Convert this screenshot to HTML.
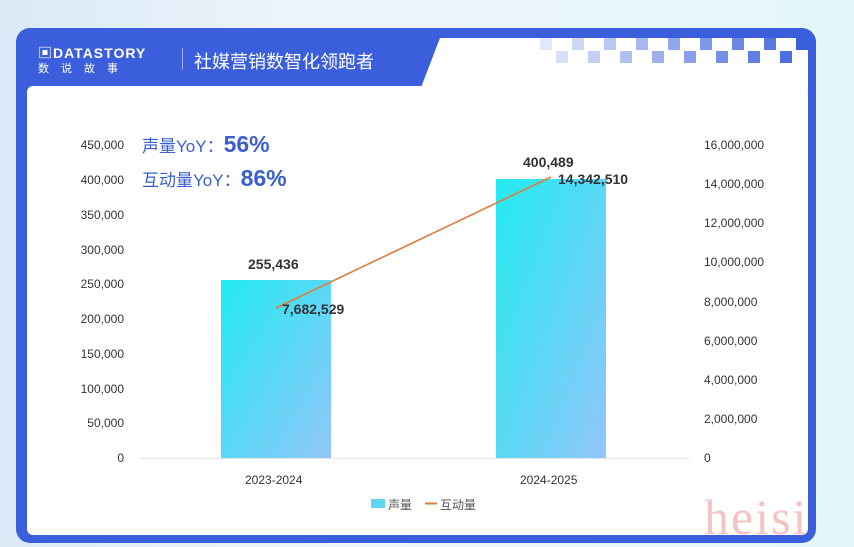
<!DOCTYPE html>
<html><head><meta charset="utf-8"><style>
body{margin:0;width:854px;height:547px;overflow:hidden;background:linear-gradient(90deg,#dbe9f7,#eef6fb 40%,#e3f7f8);font-family:"Liberation Sans","Noto Sans CJK SC",sans-serif;position:relative}
.frame{position:absolute;left:16px;top:28px;width:800px;height:515px;background:#3b5fdc;border-radius:14px}
.inner{position:absolute;left:27px;top:86px;width:781px;height:449px;background:#fff;border-radius:6px}
.t{position:absolute;font-size:12px;color:#333}
.r{text-align:right;width:90px}
</style></head><body>
<div class="frame"></div>
<div class="inner"></div>
<svg style="position:absolute;left:0;top:0" width="854" height="547">
<polygon points="440,38 808,38 808,90 420,90" fill="#fff"/>
<g fill="#3b5fdc">
<rect x="540" y="38" width="12" height="12" opacity=".15"/><rect x="556" y="51" width="12" height="12" opacity=".2"/>
<rect x="572" y="38" width="12" height="12" opacity=".25"/><rect x="588" y="51" width="12" height="12" opacity=".3"/>
<rect x="604" y="38" width="12" height="12" opacity=".35"/><rect x="620" y="51" width="12" height="12" opacity=".4"/>
<rect x="636" y="38" width="12" height="12" opacity=".45"/><rect x="652" y="51" width="12" height="12" opacity=".5"/>
<rect x="668" y="38" width="12" height="12" opacity=".55"/><rect x="684" y="51" width="12" height="12" opacity=".6"/>
<rect x="700" y="38" width="12" height="12" opacity=".65"/><rect x="716" y="51" width="12" height="12" opacity=".7"/>
<rect x="732" y="38" width="12" height="12" opacity=".75"/><rect x="748" y="51" width="12" height="12" opacity=".8"/>
<rect x="764" y="38" width="12" height="12" opacity=".85"/><rect x="780" y="51" width="12" height="12" opacity=".9"/>
<rect x="796" y="38" width="12" height="12"/>
</g>
<defs><linearGradient id="g" x1="0" y1="0" x2="1" y2="1"><stop offset="0" stop-color="#22eaf0"/><stop offset="1" stop-color="#92c6fa"/></linearGradient></defs>
<line x1="140" y1="458.5" x2="690" y2="458.5" stroke="#e6e6e6"/>
<rect x="221" y="280" width="110" height="178" fill="url(#g)"/>
<rect x="496" y="179" width="110" height="279" fill="url(#g)"/>
<line x1="276" y1="308" x2="551" y2="177" stroke="#e07b39" stroke-width="1.6"/>
<rect x="371" y="499" width="14" height="9" fill="#5ed8f0"/>
<line x1="425" y1="503.5" x2="437" y2="503.5" stroke="#e07b39" stroke-width="2"/>
</svg>
<div style="position:absolute;left:38px;top:43px;color:#fff;font-weight:bold;font-size:14px;letter-spacing:1px">▣DATASTORY</div>
<div style="position:absolute;left:38px;top:60px;color:#fff;font-size:11px;letter-spacing:12px">数说故事</div>
<div style="position:absolute;left:182px;top:48px;width:1px;height:22px;background:#9fb2f0"></div>
<div style="position:absolute;left:194px;top:48px;color:#fff;font-size:18px">社媒营销数智化领跑者</div>
<div style="position:absolute;left:142px;top:131px;color:#3b5fcc;font-size:17px">声量YoY：<b style="font-size:23px">56%</b></div>
<div style="position:absolute;left:142px;top:165px;color:#3b5fcc;font-size:17px">互动量YoY：<b style="font-size:23px">86%</b></div>
<div class="t r" style="left:34px;top:138px">450,000</div>
<div class="t r" style="left:34px;top:173px">400,000</div>
<div class="t r" style="left:34px;top:208px">350,000</div>
<div class="t r" style="left:34px;top:243px">300,000</div>
<div class="t r" style="left:34px;top:277px">250,000</div>
<div class="t r" style="left:34px;top:312px">200,000</div>
<div class="t r" style="left:34px;top:347px">150,000</div>
<div class="t r" style="left:34px;top:382px">100,000</div>
<div class="t r" style="left:34px;top:416px">50,000</div>
<div class="t r" style="left:34px;top:451px">0</div>
<div class="t" style="left:704px;top:138px">16,000,000</div>
<div class="t" style="left:704px;top:177px">14,000,000</div>
<div class="t" style="left:704px;top:216px">12,000,000</div>
<div class="t" style="left:704px;top:255px">10,000,000</div>
<div class="t" style="left:704px;top:295px">8,000,000</div>
<div class="t" style="left:704px;top:334px">6,000,000</div>
<div class="t" style="left:704px;top:373px">4,000,000</div>
<div class="t" style="left:704px;top:412px">2,000,000</div>
<div class="t" style="left:704px;top:451px">0</div>
<div class="t" style="left:245px;top:473px">2023-2024</div>
<div class="t" style="left:520px;top:473px">2024-2025</div>
<div class="t" style="left:248px;top:256px;font-size:14px;font-weight:bold">255,436</div>
<div class="t" style="left:523px;top:154px;font-size:14px;font-weight:bold">400,489</div>
<div class="t" style="left:282px;top:301px;font-size:14px;font-weight:bold">7,682,529</div>
<div class="t" style="left:558px;top:171px;font-size:14px;font-weight:bold">14,342,510</div>
<div class="t" style="left:388px;top:496px;color:#555">声量</div>
<div class="t" style="left:440px;top:496px;color:#555">互动量</div>
<div style="position:absolute;left:704px;top:488px;font-family:'Liberation Serif',serif;font-size:50px;letter-spacing:2px;color:#f4c4c4">heisi</div>
</body></html>
